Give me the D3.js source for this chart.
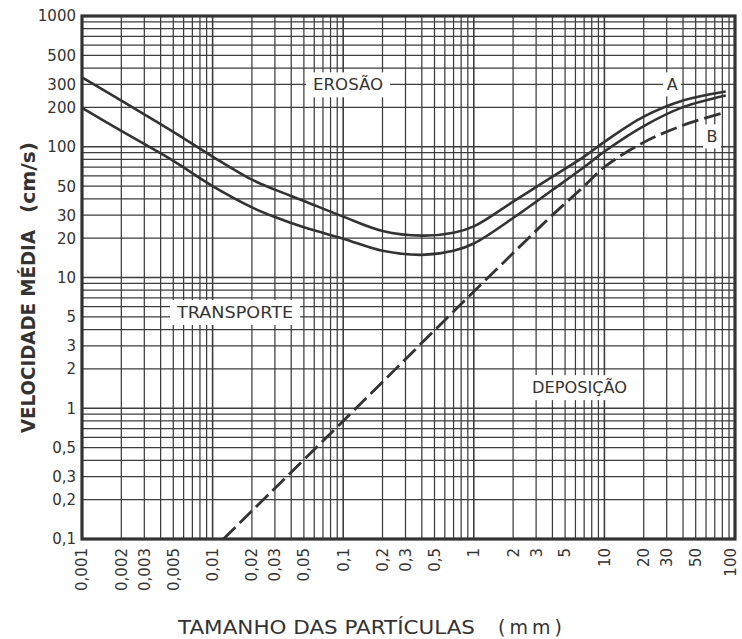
<!DOCTYPE html>
<html><head><meta charset="utf-8">
<script src="https://cdn.jsdelivr.net/npm/d3@7"></script>
<style>
html,body{margin:0;padding:0;background:#fff;}
svg{display:block;}
text{font-family:"DejaVu Sans",sans-serif;fill:#333;}
</style></head>
<body>
<svg id="chart" width="742" height="639"></svg>
<script>
// ---- data ----
const xTicks = [0.001,0.002,0.003,0.005,0.01,0.02,0.03,0.05,0.1,0.2,0.3,0.5,1,2,3,5,10,20,30,50,100];
const yTicks = [1000,500,300,200,100,50,30,20,10,5,3,2,1,0.5,0.3,0.2,0.1];
const sizes = [0.001,0.002,0.005,0.01,0.02,0.03,0.05,0.1,0.2,0.4,0.7,1,2,4,7,10,20,40,85];
const erosionUpper = [340,225,130,84,56,47,38.5,29.2,22.7,20.9,22,24.6,38,59,84,109,170,226,265];
const erosionLower = [198,132,78,50,34.4,29,24.2,19.8,16,14.9,16,18.2,28.5,46.7,70,92,144,201,247];
const depositionSizes = [0.0121,0.1,1,4,7,10,20,40,80];
const deposition = [0.1,0.8,7.8,30,50,70,108,146,181];
const regionLabels = [
  {text:"EROSÃO", x:0.109, y:300, w:70},
  {text:"TRANSPORTE", x:0.01485, y:5.45, w:116},
  {text:"DEPOSIÇÃO", x:6.45, y:1.45, w:95}
];
const curveLabels = [
  {text:"A", x:33, y:300},
  {text:"B", x:66.7, y:120}
];

const fmt = d => String(d).replace(".", ",");

const svg = d3.select("#chart");
const L = 82, R = 735, T = 16, B = 539;
const x = d3.scaleLog().domain([0.001,100]).range([L,R]);
const y = d3.scaleLog().domain([0.1,1000]).range([B,T]);

// grid values: 1..9 per decade
const xGrid = [], yGrid = [];
for (let e = -3; e <= 2; e++) for (let k = 1; k <= 9; k++) { const v = k*Math.pow(10,e); if (v <= 100.0001) xGrid.push(v); }
for (let e = -1; e <= 3; e++) for (let k = 1; k <= 9; k++) { const v = k*Math.pow(10,e); if (v <= 1000.0001) yGrid.push(v); }
const isDecade = d => Math.abs(Math.log10(d) - Math.round(Math.log10(d))) < 1e-6;

const g = svg.append("g");
g.selectAll("line.vx").data(xGrid).join("line")
  .attr("x1", d => x(d)).attr("x2", d => x(d)).attr("y1", T).attr("y2", B)
  .attr("stroke", "#3d3d3d").attr("stroke-width", d => isDecade(d) ? 1.6 : 1.25);
g.selectAll("line.hy").data(yGrid).join("line")
  .attr("y1", d => y(d)).attr("y2", d => y(d)).attr("x1", L).attr("x2", R)
  .attr("stroke", "#3d3d3d").attr("stroke-width", d => isDecade(d) ? 1.6 : 1.25);

// region labels with white boxes
regionLabels.forEach(l => {
  const cx = x(l.x), cy = y(l.y);
  g.append("rect").attr("x", cx - l.w/2 - 7).attr("y", cy - 12).attr("width", l.w + 14).attr("height", 25).attr("fill", "#fff");
  g.append("text").attr("x", cx - l.w/2).attr("y", cy).attr("dy", "0.36em")
    .attr("textLength", l.w).attr("lengthAdjust", "spacingAndGlyphs")
    .style("font-size", "16px").text(l.text);
});
curveLabels.forEach(l => {
  const cx = x(l.x), cy = y(l.y);
  g.append("rect").attr("x", cx - 9).attr("y", cy - 12).attr("width", 18).attr("height", 24).attr("fill", "#fff");
  g.append("text").attr("x", cx).attr("y", cy).attr("dy", "0.36em").attr("text-anchor", "middle")
    .style("font-size", "16px").text(l.text);
});

// curves
const line = d3.line().x(d => x(d[0])).y(d => y(d[1])).curve(d3.curveCatmullRom.alpha(0.5));
svg.append("path").attr("d", line(sizes.map((s,i) => [s, erosionUpper[i]])))
  .attr("fill", "none").attr("stroke", "#333").attr("stroke-width", 2.6);
svg.append("path").attr("d", line(sizes.map((s,i) => [s, erosionLower[i]])))
  .attr("fill", "none").attr("stroke", "#333").attr("stroke-width", 2.6);
svg.append("path").attr("d", line(depositionSizes.map((s,i) => [s, deposition[i]])))
  .attr("fill", "none").attr("stroke", "#333").attr("stroke-width", 2.8).attr("stroke-dasharray", "17,6");

// frame
svg.append("rect").attr("x", L).attr("y", T).attr("width", R-L).attr("height", B-T)
  .attr("fill", "none").attr("stroke", "#333").attr("stroke-width", 3.2);

// y tick labels
svg.selectAll("text.yt").data(yTicks).join("text")
  .attr("x", 76).attr("y", d => y(d)).attr("dy", "0.36em").attr("text-anchor", "end")
  .style("font-size", "15px").text(fmt);

// x tick labels (rotated)
svg.selectAll("text.xt").data(xTicks).join("text")
  .attr("transform", d => `translate(${Math.min(x(d), 731)},548) rotate(-90)`)
  .attr("dy", "0.36em").attr("text-anchor", "end")
  .style("font-size", "15px").text(fmt);

// axis titles
svg.append("text").attr("x", 178).attr("y", 627).attr("dy", "0.36em")
  .attr("textLength", 297).attr("lengthAdjust", "spacingAndGlyphs")
  .style("font-size", "19px").text("TAMANHO DAS PARTÍCULAS");
svg.append("text").attr("x", 498).attr("y", 627).attr("dy", "0.36em")
  .attr("textLength", 64).attr("lengthAdjust", "spacing")
  .style("font-size", "19px").text("( m m )");
svg.append("text").attr("transform", "translate(28,433) rotate(-90)").attr("dy", "0.36em")
  .attr("textLength", 203).attr("lengthAdjust", "spacingAndGlyphs")
  .style("font-size", "19px").style("font-weight", "bold").text("VELOCIDADE MÉDIA");
svg.append("text").attr("transform", "translate(28,213) rotate(-90)").attr("dy", "0.36em")
  .attr("textLength", 71).attr("lengthAdjust", "spacingAndGlyphs")
  .style("font-size", "19px").style("font-weight", "bold").text("(cm/s)");
</script>
</body></html>
